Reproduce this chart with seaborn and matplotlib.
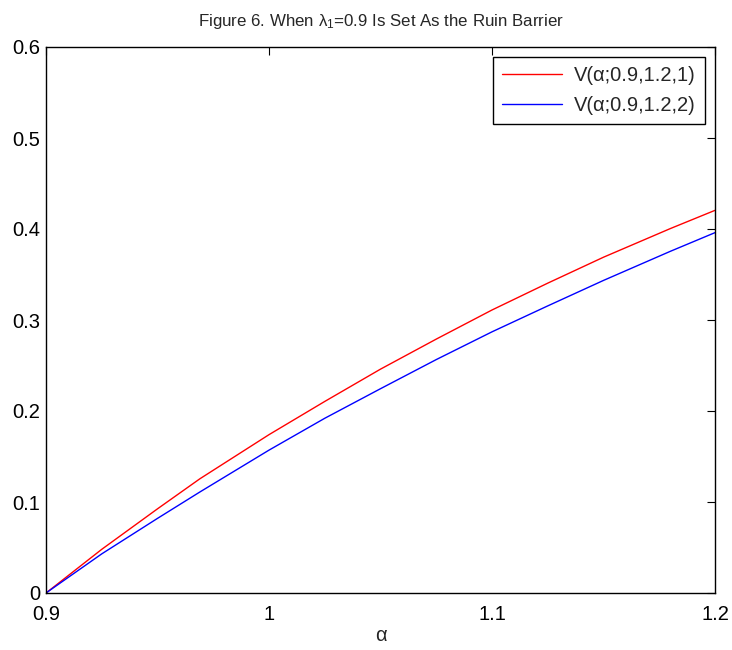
import numpy as np
import pandas as pd
import matplotlib
matplotlib.use("Agg")
import matplotlib.pyplot as plt
import seaborn as sns

# Data
alpha = [0.9, 0.925, 0.95, 0.969, 1.0, 1.025, 1.05, 1.075, 1.1, 1.125, 1.15, 1.18, 1.2]
v_red = [0.0, 0.048, 0.0925, 0.1255, 0.174, 0.2105, 0.246, 0.279, 0.311, 0.3405, 0.369, 0.4005, 0.4205]
v_blue = [0.0, 0.043, 0.082, 0.111, 0.157, 0.192, 0.2245, 0.2565, 0.287, 0.3155, 0.3435, 0.3755, 0.396]
labels = ["V(α;0.9,1.2,1)", "V(α;0.9,1.2,2)"]
xticks = [0.9, 1.0, 1.1, 1.2]
xticklabels = ["0.9", "1", "1.1", "1.2"]
yticks = [0, 0.1, 0.2, 0.3, 0.4, 0.5, 0.6]
yticklabels = ["0", "0.1", "0.2", "0.3", "0.4", "0.5", "0.6"]

df = pd.DataFrame({
    "alpha": alpha + alpha,
    "V": v_red + v_blue,
    "series": [labels[0]] * len(alpha) + [labels[1]] * len(alpha),
})

sns.set_style("white")
plt.rcParams["font.family"] = ["Liberation Sans", "DejaVu Sans"]
plt.rcParams["mathtext.fontset"] = "custom"
plt.rcParams["mathtext.rm"] = "Liberation Sans"
plt.rcParams["mathtext.it"] = "Liberation Sans"

fig = plt.figure(figsize=(7.32, 6.5), dpi=100)
ax = fig.add_axes([46 / 732, 57 / 650, 669 / 732, 546 / 650])

sns.lineplot(data=df, x="alpha", y="V", hue="series",
             palette=["#ff0000", "#0000ff"], linewidth=1.0, ax=ax)

ax.set_xlim(0.9, 1.2)
ax.set_ylim(0, 0.6)
ax.set_xticks(xticks)
ax.set_xticklabels(xticklabels)
ax.set_yticks(yticks)
ax.set_yticklabels(yticklabels)
ax.tick_params(direction="in", length=6, width=0.8, top=True, right=True,
               labelsize=14.5, colors="black")
ax.tick_params(axis="x", pad=9)
ax.tick_params(axis="y", pad=4)
for s in ax.spines.values():
    s.set_visible(True)
    s.set_color("black")
    s.set_linewidth(1.0)

ax.set_xlabel("α", fontsize=14.5, labelpad=1)
ax.set_ylabel("")
ax.set_title("Figure 6. When λ$_1$=0.9 Is Set As the Ruin Barrier",
             fontsize=12.2, pad=15)

leg = ax.legend(loc="upper right", fontsize=14.5, frameon=True, fancybox=False,
                edgecolor="black", framealpha=1, handlelength=3.0,
                borderpad=0.45, labelspacing=0.55, borderaxespad=0.5,
                handletextpad=0.6)
leg.get_frame().set_linewidth(1.0)

fig.savefig("out.png", dpi=100)
